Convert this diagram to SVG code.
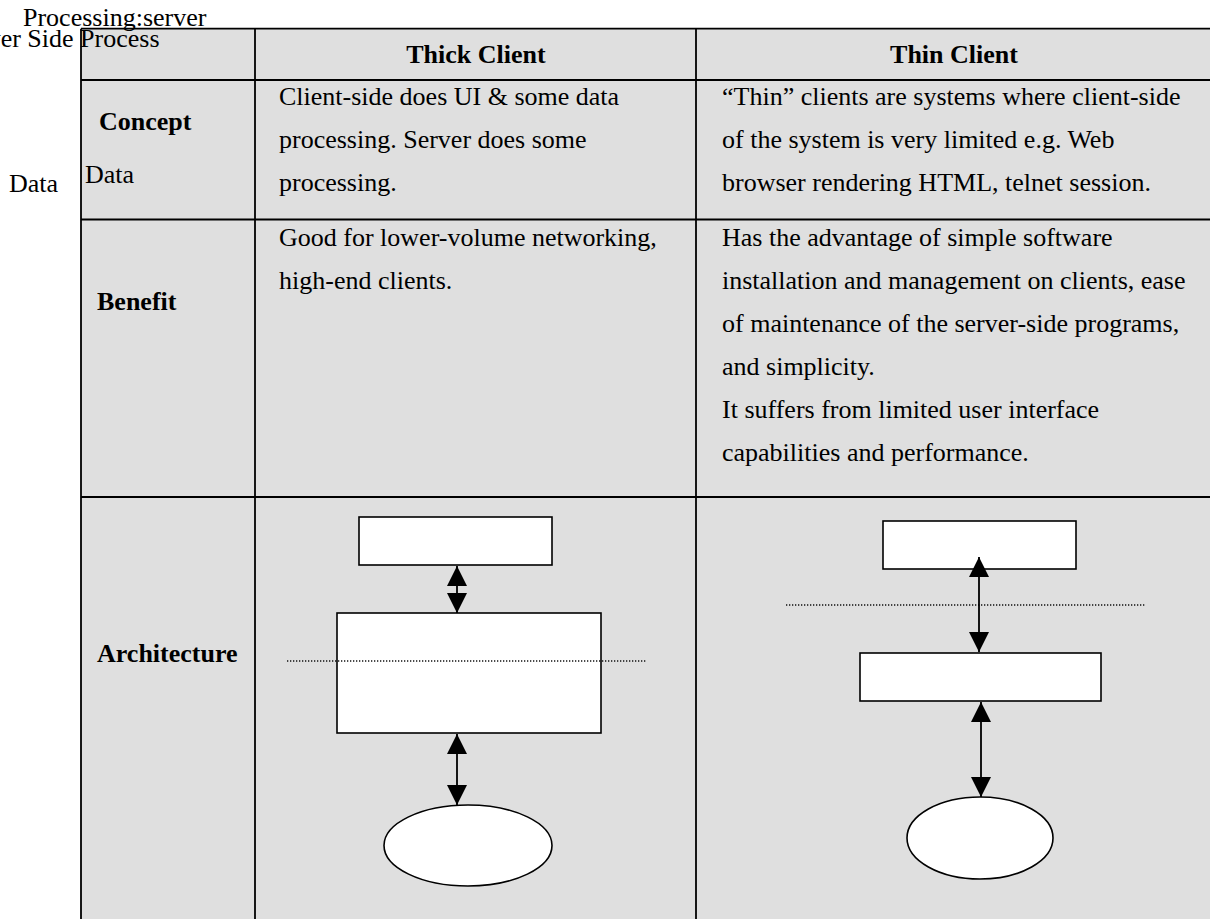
<svg xmlns="http://www.w3.org/2000/svg" width="1210" height="919" viewBox="0 0 1210 919">
  <style>
    .txt { font-family: "Liberation Serif", "Times New Roman", serif; font-size: 26px; fill: #000; }
    .bold { font-weight: bold; }
    .grid { stroke: #000; stroke-width: 1.8; fill: none; }
    .shape { fill: #fff; stroke: #000; stroke-width: 1.6; }
    .link { stroke: #000; stroke-width: 1.8; fill: none; }
    .dots { stroke: #111; stroke-width: 1.3; stroke-dasharray: 1.3 1.7; fill: none; }
  </style>
  <defs>
    <marker id="head" viewBox="0 0 20 20" refX="20" refY="10" markerWidth="20" markerHeight="20" markerUnits="userSpaceOnUse" orient="auto-start-reverse">
      <path d="M0,0 L20,10 L0,20 z" fill="#000"/>
    </marker>
  </defs>

  <rect width="1210" height="919" fill="#fff"/>

  <!-- table background and rules -->
  <g id="table">
    <rect x="81" y="28.7" width="1140" height="900" fill="#dfdfdf"/>
    <line class="grid" x1="81" y1="28.7" x2="1210" y2="28.7"/>
    <line class="grid" x1="81" y1="80" x2="1210" y2="80"/>
    <line class="grid" x1="81" y1="219.5" x2="1210" y2="219.5"/>
    <line class="grid" x1="81" y1="497" x2="1210" y2="497"/>
    <line class="grid" x1="81" y1="28.7" x2="81" y2="919"/>
    <line class="grid" x1="255" y1="28.7" x2="255" y2="919"/>
    <line class="grid" x1="696" y1="28.7" x2="696" y2="919"/>
  </g>

  <!-- header row -->
  <g id="header">
    <text class="txt bold" x="476" y="63" text-anchor="middle">Thick Client</text>
    <text class="txt bold" x="954" y="63" text-anchor="middle">Thin Client</text>
  </g>

  <!-- row labels -->
  <g id="labels">
    <text class="txt bold" x="99" y="130">Concept</text>
    <text class="txt" x="85" y="183">Data</text>
    <text class="txt bold" x="97" y="310">Benefit</text>
    <text class="txt bold" x="97" y="662">Architecture</text>
  </g>

  <!-- concept row -->
  <g id="concept">
    <text class="txt" x="279" y="105">Client-side does UI &amp; some data</text>
    <text class="txt" x="279" y="148">processing. Server does some</text>
    <text class="txt" x="279" y="191">processing.</text>
    <text class="txt" x="722" y="105">“Thin” clients are systems where client-side</text>
    <text class="txt" x="722" y="148">of the system is very limited e.g. Web</text>
    <text class="txt" x="722" y="191">browser rendering HTML, telnet session.</text>
  </g>

  <!-- benefit row -->
  <g id="benefit">
    <text class="txt" x="279" y="246">Good for lower-volume networking,</text>
    <text class="txt" x="279" y="289">high-end clients.</text>
    <text class="txt" x="722" y="246">Has the advantage of simple software</text>
    <text class="txt" x="722" y="289">installation and management on clients, ease</text>
    <text class="txt" x="722" y="332">of maintenance of the server-side programs,</text>
    <text class="txt" x="722" y="375">and simplicity.</text>
    <text class="txt" x="722" y="418">It suffers from limited user interface</text>
    <text class="txt" x="722" y="461">capabilities and performance.</text>
  </g>

  <!-- thick client architecture -->
  <g id="thick-top"><rect class="shape" x="359" y="517" width="193" height="48"/></g>
  <g id="thick-mid"><rect class="shape" x="337" y="613" width="264" height="120"/></g>
  <g id="thick-data"><ellipse class="shape" cx="468" cy="845.5" rx="84" ry="40.5"/></g>

  <!-- thin client architecture -->
  <g id="thin-top"><rect class="shape" x="883" y="521" width="193" height="48"/></g>
  <g id="thin-mid"><rect class="shape" x="860" y="653" width="241" height="48"/></g>
  <g id="thin-data"><ellipse class="shape" cx="980" cy="838" rx="73" ry="41"/></g>

  <!-- tier boundaries -->
  <g id="boundaries">
    <line class="dots" x1="287" y1="661" x2="647" y2="661"/>
    <line class="dots" x1="786" y1="605" x2="1145" y2="605"/>
  </g>

  <!-- connectors -->
  <g id="connectors">
    <line class="link" x1="457" y1="566" x2="457" y2="613" marker-start="url(#head)" marker-end="url(#head)"/>
    <line class="link" x1="457" y1="734" x2="457" y2="805" marker-start="url(#head)" marker-end="url(#head)"/>
    <line class="link" x1="979" y1="557" x2="979" y2="652" marker-start="url(#head)" marker-end="url(#head)"/>
    <line class="link" x1="981" y1="702" x2="981" y2="797" marker-start="url(#head)" marker-end="url(#head)"/>
  </g>

  <!-- loose captions above and left of the table -->
  <g id="captions">
    <text class="txt" x="23" y="26">Processing:server</text>
    <text class="txt" x="-47" y="47">Server Side Process</text>
    <text class="txt" x="9" y="192">Data</text>
  </g>
</svg>
